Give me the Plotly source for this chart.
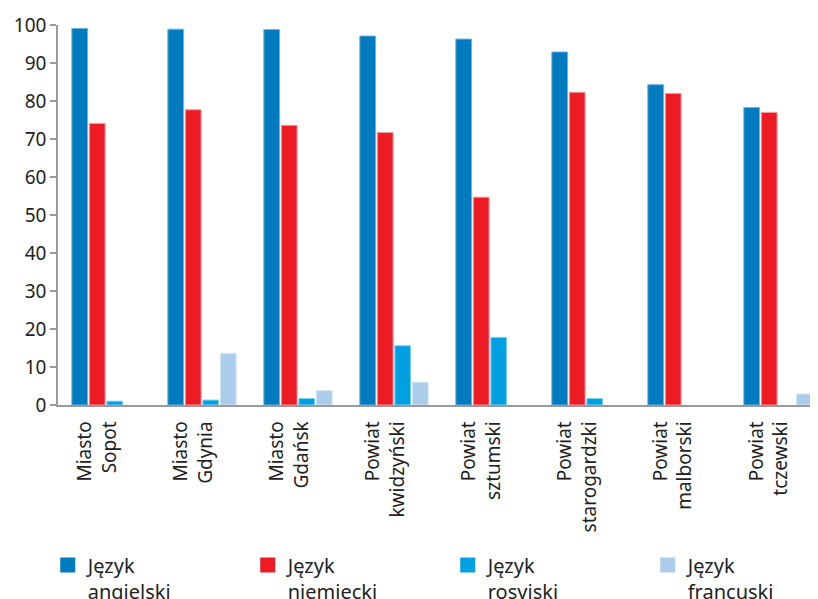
import plotly.graph_objects as go

# --- data ---
regions = [
    "Miasto<br>Sopot", "Miasto<br>Gdynia", "Miasto<br>Gdańsk",
    "Powiat<br>kwidzyński", "Powiat<br>sztumski", "Powiat<br>starogardzki",
    "Powiat<br>malborski", "Powiat<br>tczewski",
]
angielski = [99.1, 98.9, 98.8, 97.1, 96.3, 92.9, 84.3, 78.3]
niemiecki = [74.1, 77.7, 73.6, 71.7, 54.7, 82.3, 82.0, 77.0]
rosyjski = [1.0, 1.3, 1.7, 15.6, 17.8, 1.7, None, None]
francuski = [None, 13.6, 3.8, 6.0, None, None, None, 2.9]

series = [
    ("Język<br>angielski", angielski, "#007bbf", "#6db5e0"),
    ("Język<br>niemiecki", niemiecki, "#ed1c24", "#f59a9e"),
    ("Język<br>rosyjski", rosyjski, "#00a0e1", "#7fcff0"),
    ("Język<br>francuski", francuski, "#abcdeb", "#d5e6f5"),
]

FONT = "Noto Sans"

fig = go.Figure()
for name, vals, col, edge in series:
    fig.add_trace(go.Bar(
        x=regions, y=vals, name=name, showlegend=False,
        marker=dict(color=col, line=dict(color=edge, width=1)),
    ))
# legend-only entries with larger square swatches
for name, vals, col, edge in series:
    fig.add_trace(go.Scatter(
        x=[None], y=[None], mode="markers", name=name,
        marker=dict(symbol="square", size=15, color=col),
    ))

# page body has an 8px margin, so the figure is nudged up/left to compensate
fig.update_layout(
    width=818, height=599,
    margin=dict(l=50, r=8, t=17, b=202, autoexpand=False),
    paper_bgcolor="white", plot_bgcolor="white",
    font=dict(family=FONT, size=18, color="#222222"),
    barmode="group", bargap=0.27, bargroupgap=0.1,
    legend=dict(
        orientation="h", x=-0.0135, xanchor="left", y=-0.37, yanchor="top",
        entrywidth=155, entrywidthmode="pixels", valign="top",
        font=dict(family=FONT, size=20, color="#222222"),
        itemclick=False,
    ),
)
fig.update_xaxes(
    range=[-0.5, 7.417], tickangle=-90, automargin=False,
    ticklabelstandoff=7, ticklabelshift=-9,
    showline=True, linecolor="#9a9a9a", linewidth=1.5,
    ticks="", showgrid=False, zeroline=False,
    tickfont=dict(family=FONT, size=19, color="#222222"),
)
fig.update_yaxes(
    range=[0, 100], tickvals=list(range(0, 101, 10)), automargin=False,
    showline=True, linecolor="#9a9a9a", linewidth=1.5,
    ticks="outside", ticklen=6, tickcolor="#9a9a9a", tickwidth=1.5,
    showgrid=False, zeroline=False,
    tickfont=dict(family=FONT, size=19, color="#222222"),
)

fig.write_html("out.html")
